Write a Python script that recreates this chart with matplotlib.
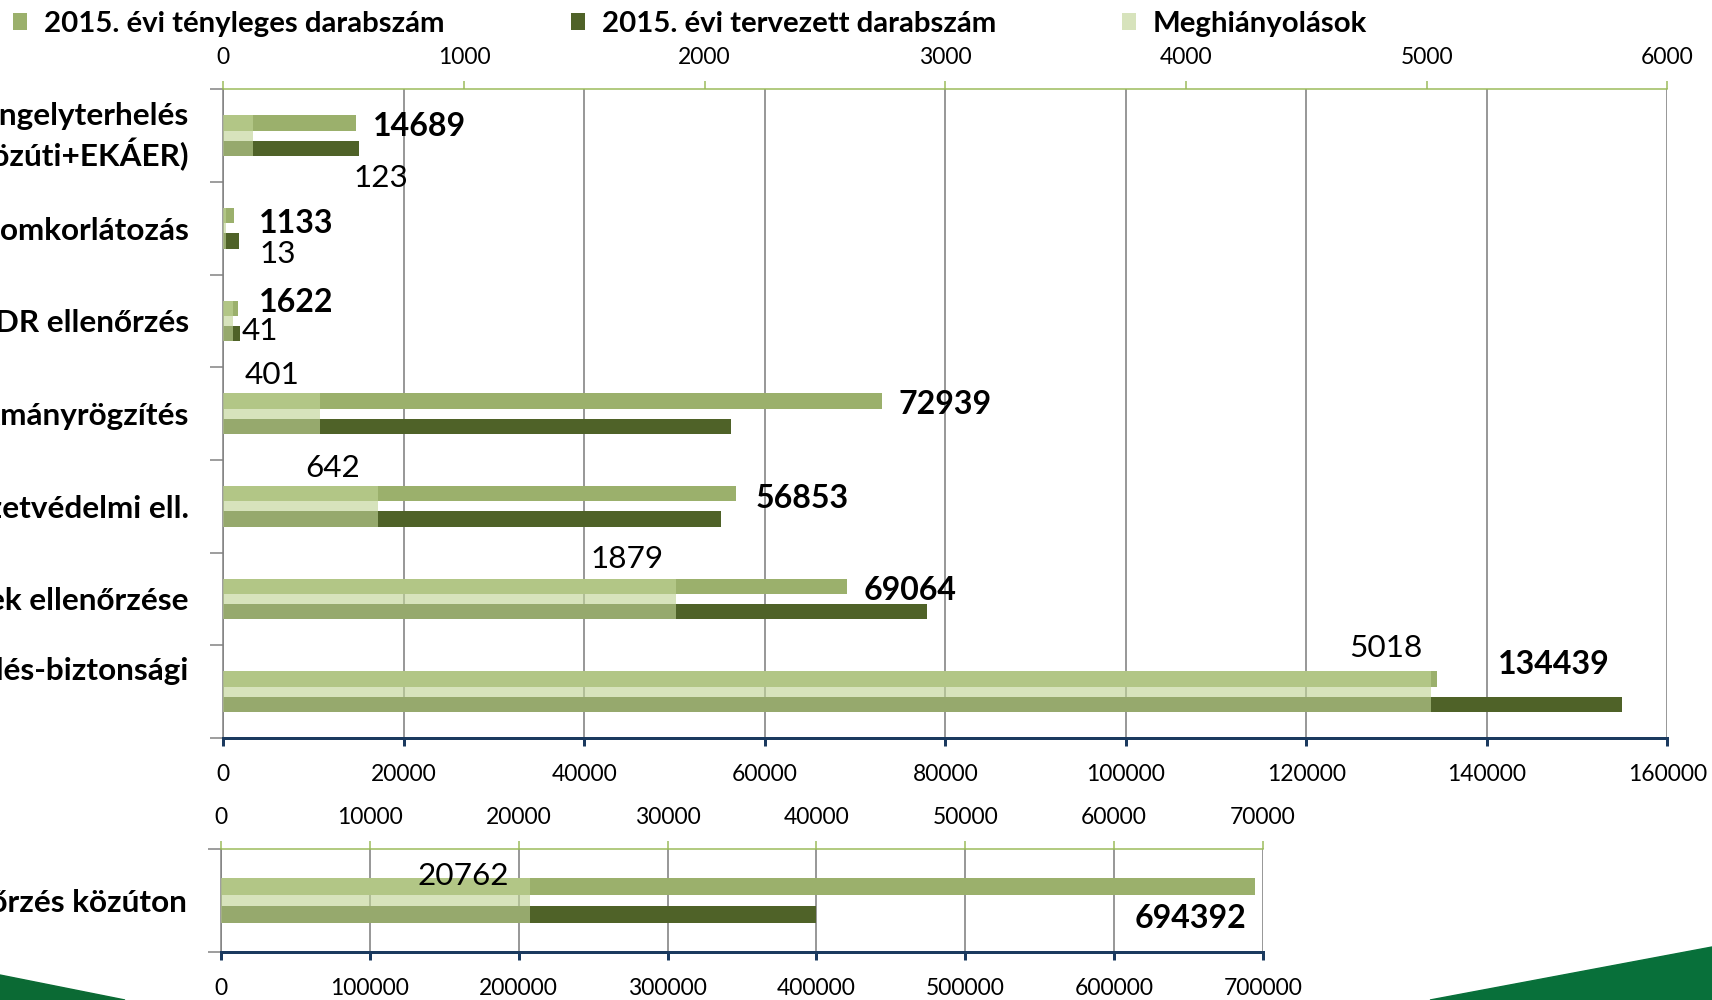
import matplotlib
matplotlib.use("Agg")
import matplotlib.pyplot as plt
from matplotlib.patches import Polygon
import numpy as np

# ---------------- data ----------------
categories = ["Tengelyterhelés\n(közúti+EKÁER)", "Forgalomkorlátozás", "ADR ellenőrzés",
              "Okmányrögzítés", "Környezetvédelmi ell.", "Járművek ellenőrzése",
              "Közlekedés-biztonsági"]
actual = [14689, 1133, 1622, 72939, 56853, 69064, 134439]
planned = [15000, 1700, 1900, 56200, 55200, 78000, 155000]
deficits = [123, 13, 41, 401, 642, 1879, 5018]

categories2 = ["Ellenőrzés közúton"]
actual2 = [694392]
planned2 = [400000]
deficits2 = [20762]

series_names = ["2015. évi tényleges darabszám", "2015. évi tervezett darabszám", "Meghiányolások"]

top_primary_ticks = list(range(0, 160001, 20000))
top_secondary_ticks = list(range(0, 6001, 1000))
bot_primary_ticks = list(range(0, 700001, 100000))
bot_secondary_ticks = list(range(0, 70001, 10000))

# ---------------- style ----------------
ACT = "#9BB06C"
PLAN = "#4F6228"
HIA = "#C0D496"
HIA_ALPHA = 0.63
NAVY = "#1B3A5F"
GRAY = "#808080"
GREEN_AX = "#9BBB59"
PX = 0.72  # points per pixel at dpi 100

plt.rcParams["font.family"] = ["Lato", "DejaVu Sans"]
fig = plt.figure(figsize=(17.12, 10.0), dpi=100)
renderer = fig.canvas.get_renderer()


def fit_size(s, target_px, weight="normal"):
    t = fig.text(0, 0, s, fontsize=40, fontweight=weight)
    w = t.get_window_extent(renderer=renderer).width
    t.remove()
    return 40.0 * target_px / w


FS_LEG = fit_size(series_names[0], 401, "bold")
FS_CAT = FS_LEG * 1.07
FS_VAL_B = fit_size("14689", 93, "bold")
FS_VAL = fit_size("20762", 91)
FS_TICK = fit_size("600000", 79.3)

OFF = 0.137
BH = 0.166
LH = 0.44


def make_panel(rect, cats, act, plan, dfc, pticks, sticks, cat_pad_px, cat_shift):
    ax = fig.add_axes(rect)
    ax2 = ax.twiny()
    y = np.arange(len(cats))
    b_act = ax.barh(y - OFF, act, height=BH, color=ACT, zorder=2)
    b_plan = ax.barh(y + OFF, plan, height=BH, color=PLAN, zorder=2)
    b_def = ax2.barh(y, dfc, height=LH, color=HIA, alpha=HIA_ALPHA, zorder=2)

    ax.set_xlim(pticks[0], pticks[-1])
    ax2.set_xlim(sticks[0], sticks[-1])
    ax.set_ylim(len(cats) - 0.5, -0.5)

    ax.set_xticks(pticks)
    ax.set_xticklabels([str(t) for t in pticks])
    ax2.set_xticks(sticks)
    ax2.set_xticklabels([str(t) for t in sticks])

    ax.set_yticks(np.arange(len(cats) + 1) - 0.5)
    ax.set_yticklabels([])
    ax.set_yticks(y + np.asarray(cat_shift), minor=True)
    ax.set_yticklabels(cats, minor=True, fontweight="bold", fontsize=FS_CAT,
                       ha="right", multialignment="right")
    for lab in ax.get_yticklabels(minor=True):
        lab.set_linespacing(1.25)

    ax.tick_params(axis="x", which="major", direction="out", length=8 * PX, width=3 * PX,
                   color=NAVY, pad=18 * PX, labelsize=FS_TICK, labelcolor="black")
    ax2.tick_params(axis="x", which="major", direction="out", length=8 * PX, width=1.5 * PX,
                    color=GREEN_AX, pad=13.5 * PX, labelsize=FS_TICK, labelcolor="black")
    ax.tick_params(axis="y", which="major", direction="out", length=13 * PX, width=1.5 * PX,
                   color=GRAY)
    ax.tick_params(axis="y", which="minor", length=0, pad=cat_pad_px * PX)

    ax.set_axisbelow(True)
    ax.xaxis.grid(True, color=GRAY, linewidth=1.6 * PX)

    for s in ("top", "right"):
        ax.spines[s].set_visible(False)
    ax.spines["left"].set_color(GRAY)
    ax.spines["left"].set_linewidth(1.5 * PX)
    ax.spines["bottom"].set_color(NAVY)
    ax.spines["bottom"].set_linewidth(3 * PX)
    for s in ("bottom", "left", "right"):
        ax2.spines[s].set_visible(False)
    ax2.spines["top"].set_color(GREEN_AX)
    ax2.spines["top"].set_linewidth(1.5 * PX)
    return ax, ax2, (b_act, b_plan, b_def)


# top panel
axT, axT2, handles = make_panel([223.3 / 1712, 1 - 738 / 1000, (1667.3 - 223.3) / 1712, (738 - 89.3) / 1000],
                                categories, actual, planned, deficits,
                                top_primary_ticks, top_secondary_ticks, 34.3,
                                [-0.055, 0, 0, 0, 0, 0, -0.248])
# bottom panel
axB, axB2, _ = make_panel([221 / 1712, 1 - 952.3 / 1000, (1263 - 221) / 1712, (952.3 - 849.3) / 1000],
                          categories2, actual2, planned2, deficits2,
                          bot_primary_ticks, bot_secondary_ticks, 34, [0])

VC = 3  # visual-centre correction (px, downward)

# label offsets (px, right / down) -- placement only
act_off = [(17, 0.5), (25.5, 5), (21, -9), (17, 1), (19.6, 1.4), (17.4, 1.2), (61, -17)]
def_off = [(101, 39.4, "left"), (32.6, 22.7, "left"), (8.8, 7, "left"), (-20, -41.6, "right"),
           (-17.5, -41, "right"), (-11.5, -43, "right"), (-9, -46.7, "right")]

for i, v in enumerate(actual):
    dx, dy = act_off[i]
    axT2.annotate(str(v), xy=(v, i - OFF), xycoords=axT.transData, xytext=(dx, -(dy + VC)),
                  textcoords="offset pixels", ha="left", va="center", fontsize=FS_VAL_B,
                  fontweight="bold")
for i, v in enumerate(deficits):
    dx, dy, ha = def_off[i]
    axT2.annotate(str(v), xy=(v, i), xycoords="data", xytext=(dx, -(dy + VC)),
                  textcoords="offset pixels", ha=ha, va="center", fontsize=FS_VAL)

for i, v in enumerate(actual2):
    axB2.annotate(str(v), xy=(v, i - OFF), xycoords=axB.transData, xytext=(-8.7, -(28.7 + VC)),
                  textcoords="offset pixels", ha="right", va="center", fontsize=FS_VAL_B,
                  fontweight="bold")
for i, v in enumerate(deficits2):
    axB2.annotate(str(v), xy=(v, i), xycoords="data", xytext=(-21, -(-27.8 + VC)),
                  textcoords="offset pixels", ha="right", va="center", fontsize=FS_VAL)

# legend
em_px = FS_LEG / PX
fig.legend(handles, series_names, loc="center left", bbox_to_anchor=(13 / 1712, 1 - 24 / 1000),
           ncol=3, frameon=False, prop={"weight": "bold", "size": FS_LEG},
           handlelength=14 / em_px, handleheight=14 / em_px, handletextpad=17 / em_px,
           columnspacing=126 / em_px, borderpad=0, borderaxespad=0)

# slide background decoration (green swooshes in the corners)
fig.add_artist(Polygon([(0, 1 - 975 / 1000), (125 / 1712, 0), (0, 0)], closed=True,
                       transform=fig.transFigure, color="#0B6A34", zorder=-1))
fig.add_artist(Polygon([(1430 / 1712, 0), (1, 1 - 947 / 1000), (1, 0)], closed=True,
                       transform=fig.transFigure, color="#08703A", zorder=-1))

fig.savefig("out.png", dpi=100)
